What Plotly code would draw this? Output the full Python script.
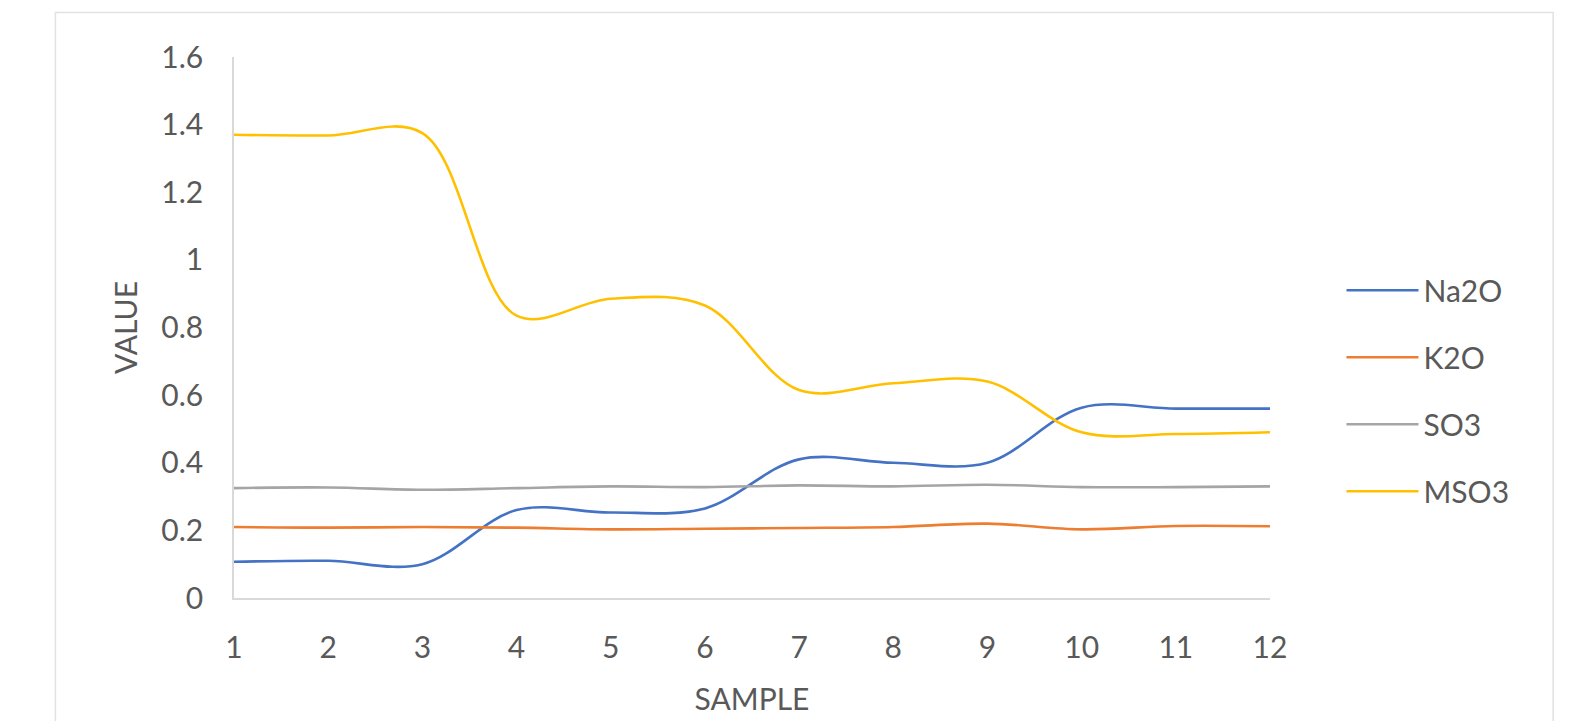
import plotly.graph_objects as go

samples = [1, 2, 3, 4, 5, 6, 7, 8, 9, 10, 11, 12]
na2o = [0.107, 0.11, 0.10, 0.26, 0.253, 0.265, 0.41, 0.40, 0.40, 0.563, 0.56, 0.56]
k2o = [0.21, 0.208, 0.21, 0.208, 0.203, 0.205, 0.207, 0.21, 0.22, 0.203, 0.213, 0.212]
so3 = [0.325, 0.327, 0.32, 0.325, 0.33, 0.328, 0.333, 0.33, 0.335, 0.328, 0.328, 0.33]
mso3 = [1.37, 1.368, 1.375, 0.835, 0.885, 0.865, 0.615, 0.635, 0.64, 0.49, 0.485, 0.49]
y_ticks = [0, 0.2, 0.4, 0.6, 0.8, 1, 1.2, 1.4, 1.6]
y_tick_text = ["0", "0.2", "0.4", "0.6", "0.8", "1", "1.2", "1.4", "1.6"]

series = [("Na2O", na2o, "#4472C4"), ("K2O", k2o, "#ED7D31"),
          ("SO3", so3, "#A5A5A5"), ("MSO3", mso3, "#FFC000")]

fig = go.Figure()
for name, vals, col in series:
    fig.add_trace(go.Scatter(x=samples, y=vals, name=name, mode="lines",
                             legendgroup=name,
                             line=dict(color=col, width=2.6, shape="spline", smoothing=1.0)))

font_fam = "Lato, 'Open Sans', sans-serif"
fsz = 30
fig.update_layout(
    width=1578, height=721,
    margin=dict(l=226, r=316, t=49, b=131, autoexpand=False),
    paper_bgcolor="white", plot_bgcolor="white",
    font=dict(family=font_fam, color="#595959", size=fsz),
    showlegend=True,
    legend=dict(x=1.069, xanchor="left", y=0.383, yanchor="middle",
                font=dict(size=fsz, color="#595959"), tracegroupgap=25,
                itemwidth=72, bgcolor="rgba(0,0,0,0)"),
    xaxis=dict(range=[1, 12], tickvals=samples, showgrid=False, zeroline=False,
               showline=True, linecolor="#D9D9D9", linewidth=1.5, ticks="",
               automargin=False,
               ticklabelstandoff=22, tickfont=dict(size=fsz, color="#595959"),
               title=dict(text="SAMPLE", font=dict(size=fsz, color="#595959"), standoff=26)),
    yaxis=dict(range=[0, 1.6], tickvals=y_ticks, ticktext=y_tick_text, showgrid=False,
               zeroline=False, showline=True, linecolor="#D9D9D9", linewidth=1.5, ticks="",
               automargin=False,
               ticklabelstandoff=23, tickfont=dict(size=fsz, color="#595959"),
               title=dict(text="VALUE", font=dict(size=fsz, color="#595959"), standoff=15)),
    shapes=[dict(type="rect", xref="paper", yref="paper",
                 x0=-0.1724, x1=1.2733, y0=-0.235, y1=1.0821,
                 line=dict(color="#E2E2E2", width=1.5), fillcolor="rgba(0,0,0,0)", layer="below")],
)

fig.write_html("out.html")
